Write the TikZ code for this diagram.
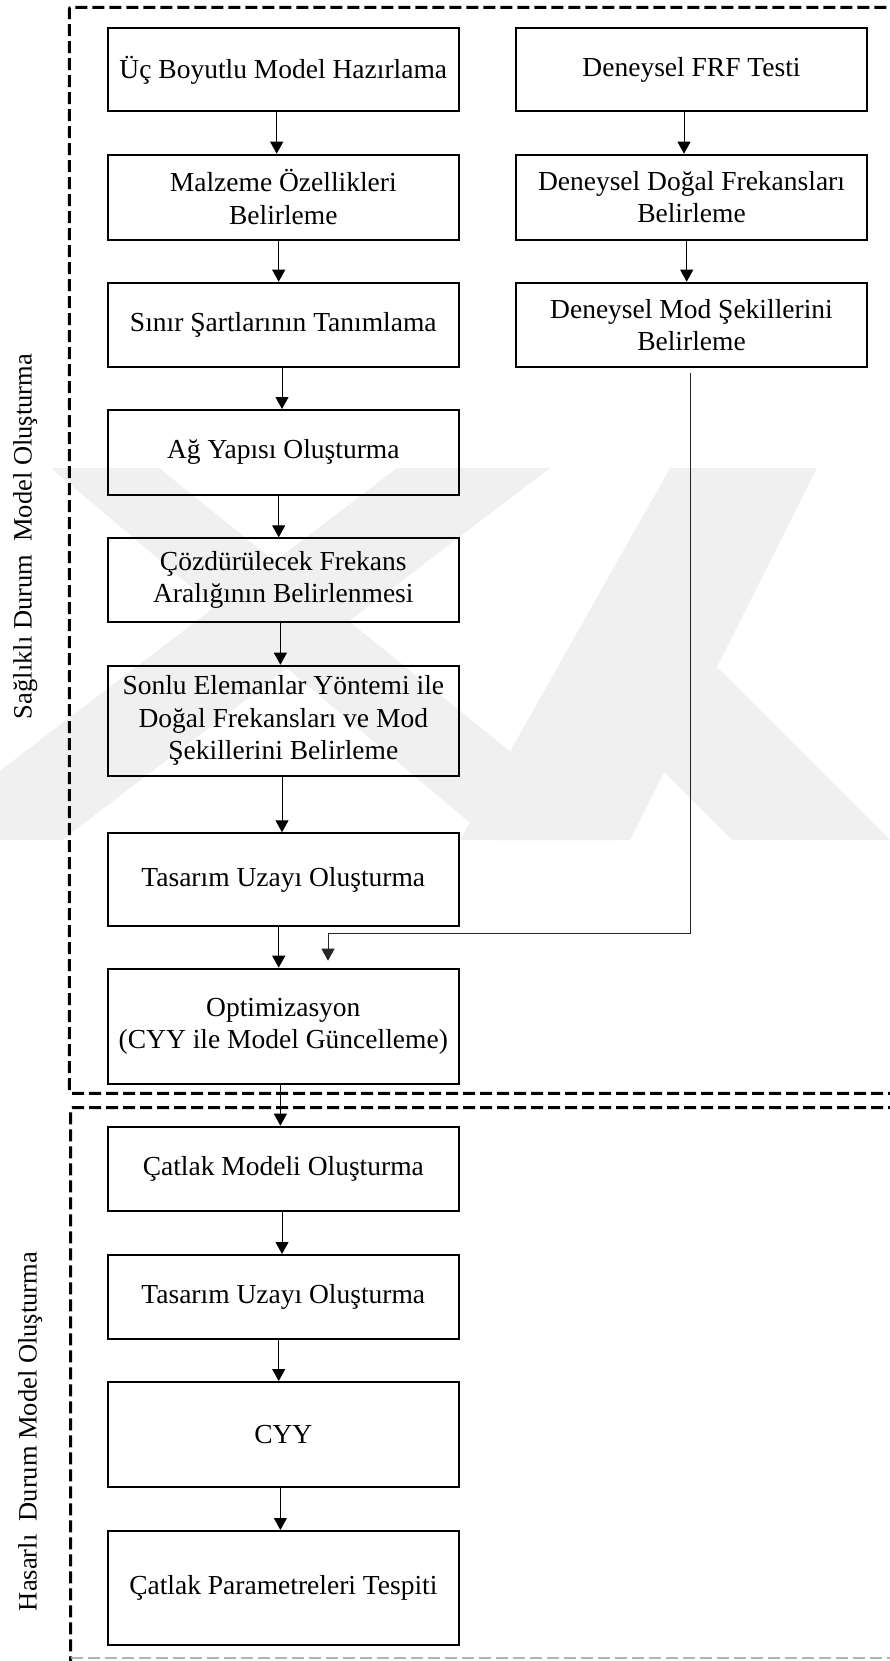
\documentclass[tikz,border=0pt]{standalone}
\usepackage{fontspec}
\setmainfont{Liberation Serif}
\usetikzlibrary{arrows.meta}
\begin{document}
\begin{tikzpicture}[x=1pt,y=-1pt,
  blk/.style={draw, line width=2pt, minimum width=350.5pt, inner sep=2pt,
    align=center, font=\fontsize{27.5}{32.5}\selectfont},
  arr/.style={line width=1pt, -{Triangle[width=13pt,length=12pt]}},
  feed/.style={line width=0.9pt, black!85, -{Triangle[width=13pt,length=12pt]}},
  frame/.style={line width=3pt, dash pattern=on 12pt off 5pt},
  wmshape/.style={fill=black!6, draw=none},
  sidelabel/.style={rotate=90, anchor=base, inner sep=0pt,
    font=\fontsize{26.5}{30}\selectfont}]
\useasboundingbox (0,0) rectangle (890,1661);
\begin{scope}
\clip (0,0) rectangle (890,1661);

% faint background emblem
\fill[wmshape] (51,468) -- (159,468) -- (620,840) -- (490,840) -- cycle;
\fill[wmshape] (397,468) -- (550,468) -- (62,840) -- (-91,840) -- cycle;
\fill[wmshape] (670,468) -- (817,468) -- (630,840) -- (460,840) -- cycle;
\fill[wmshape] (717,667) -- (890,840) -- (732,840) -- (664,772) -- cycle;

% dashed group frames
\draw[frame, rounded corners=2pt] (900,1093.3) -- (69.3,1093.3) -- (69.3,7.3) -- (900,7.3);
\draw[frame, rounded corners=2pt] (900,1107.7) -- (70.7,1107.7) -- (70.7,1670);
\draw[line width=1.2pt, black!30, dash pattern=on 12pt off 5pt] (70.7,1658) -- (900,1658);

% group labels
\node[sidelabel] (lab1) at (31.5,536.5) {Sağlıklı Durum\ \ Model Oluşturma};
\node[sidelabel] (lab2) at (36.7,1431.5) {Hasarlı\ \ Durum Model Oluşturma};

% left column
\node[blk, minimum height=83.2pt]  (L1)  at (283.3,69.9)   {Üç Boyutlu Model Hazırlama};
\node[blk, minimum height=85pt]    (L2)  at (283.3,197.2)  {Malzeme Özellikleri\\Belirleme};
\node[blk, minimum height=84.3pt]  (L3)  at (283.3,324.85) {Sınır Şartlarının Tanımlama};
\node[blk, minimum height=84.7pt]  (L4)  at (283.3,452.35) {Ağ Yapısı Oluşturma};
\node[blk, minimum height=83.4pt]  (L5)  at (283.3,580)    {Çözdürülecek Frekans\\Aralığının Belirlenmesi};
\node[blk, minimum height=110.3pt] (L6)  at (283.3,720.85) {Sonlu Elemanlar Yöntemi ile\\Doğal Frekansları ve Mod\\Şekillerini Belirleme};
\node[blk, minimum height=92.7pt]  (L7)  at (283.3,879.65) {Tasarım Uzayı Oluşturma};
\node[blk, minimum height=114.8pt] (L8)  at (283.3,1026.1) {Optimizasyon\\(CYY ile Model Güncelleme)};
\node[blk, minimum height=84pt]    (L9)  at (283.3,1168.7) {Çatlak Modeli Oluşturma};
\node[blk, minimum height=83.7pt]  (L10) at (283.3,1296.85) {Tasarım Uzayı Oluşturma};
\node[blk, minimum height=105.3pt] (L11) at (283.3,1434.65) {CYY};
\node[blk, minimum height=114pt]   (L12) at (283.3,1588)   {Çatlak Parametreleri Tespiti};

% right column
\node[blk, minimum height=83.2pt]  (R1) at (691.5,69.9)   {Deneysel FRF Testi};
\node[blk, minimum height=85pt]    (R2) at (691.5,197.2)  {Deneysel Doğal Frekansları\\Belirleme};
\node[blk, minimum height=84.3pt]  (R3) at (691.5,324.85) {Deneysel Mod Şekillerini\\Belirleme};

% flow arrows
\draw[arr] ([xshift=-6.6pt]L1.south) -- ([xshift=-6.6pt]L2.north);
\draw[arr] ([xshift=-4.6pt]L2.south) -- ([xshift=-4.6pt]L3.north);
\draw[arr] ([xshift=-1.3pt]L3.south) -- ([xshift=-1.3pt]L4.north);
\draw[arr] ([xshift=-4.6pt]L4.south) -- ([xshift=-4.6pt]L5.north);
\draw[arr] ([xshift=-2.9pt]L5.south) -- ([xshift=-2.9pt]L6.north);
\draw[arr] ([xshift=-1.3pt]L6.south) -- ([xshift=-1.3pt]L7.north);
\draw[arr] ([xshift=-4.6pt]L7.south) -- ([xshift=-4.6pt]L8.north);
\draw[arr] ([xshift=-2.9pt]L8.south) -- ([xshift=-2.9pt]L9.north);
\draw[arr] ([xshift=-1.3pt]L9.south) -- ([xshift=-1.3pt]L10.north);
\draw[arr] ([xshift=-4.6pt]L10.south) -- ([xshift=-4.6pt]L11.north);
\draw[arr] ([xshift=-2.9pt]L11.south) -- ([xshift=-2.9pt]L12.north);
\draw[arr] ([xshift=-7.5pt]R1.south) -- ([xshift=-7.5pt]R2.north);
\draw[arr] ([xshift=-4.8pt]R2.south) -- ([xshift=-4.8pt]R3.north);

% experimental results fed into the optimisation
\coordinate (turn) at (328,933.3);
\draw[feed] ([xshift=-0.8pt,yshift=-5pt]R3.south) |- (turn) -- ([yshift=7pt]turn |- L8.north);
\end{scope}
\end{tikzpicture}
\end{document}
